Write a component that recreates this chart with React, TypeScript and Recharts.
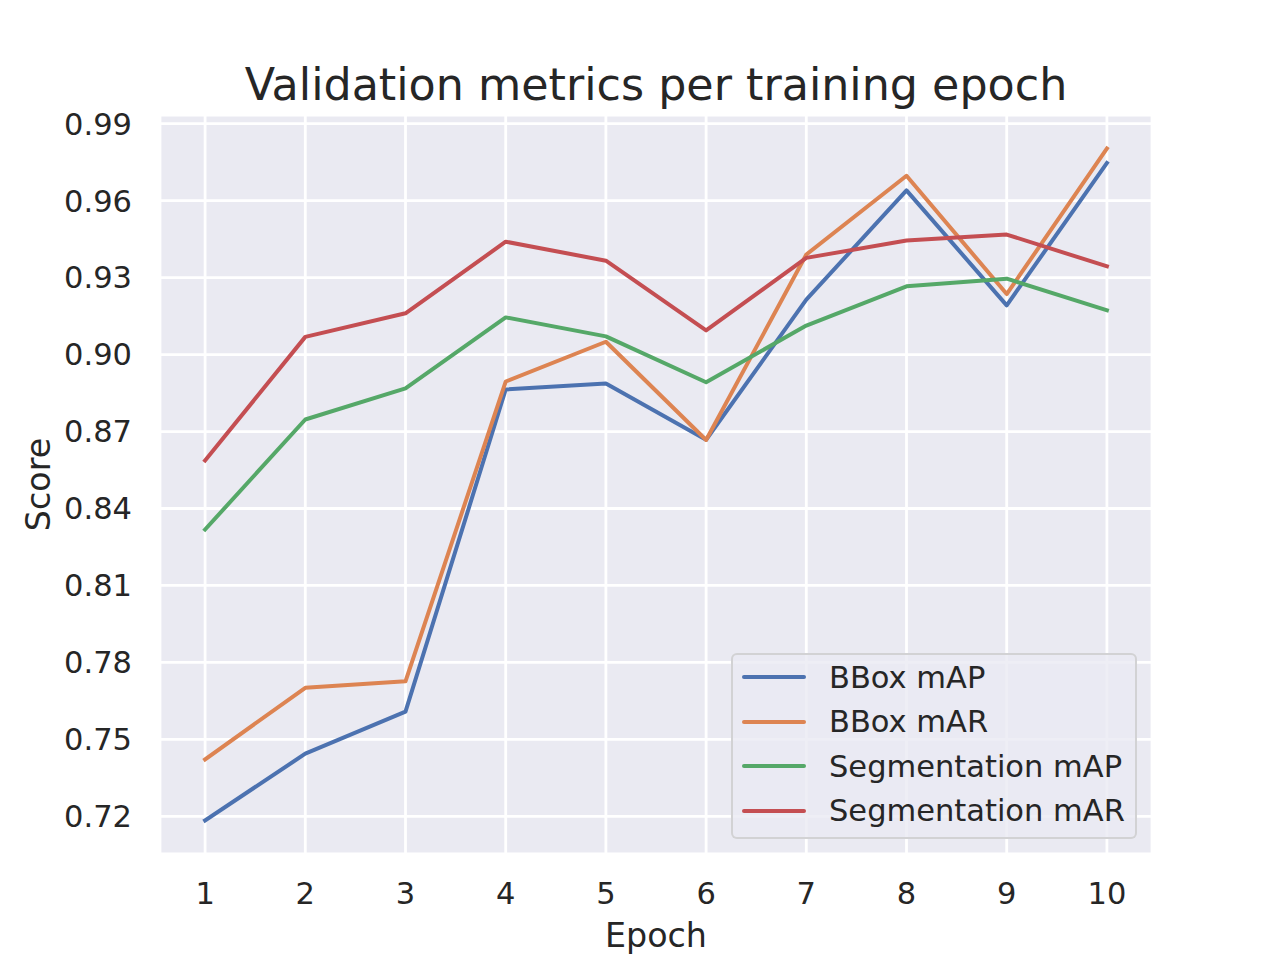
import {
  CartesianGrid,
  Label,
  Legend,
  Line,
  LineChart,
  XAxis,
  YAxis,
} from "recharts";

const epochs = [1, 2, 3, 4, 5, 6, 7, 8, 9, 10];
const bboxMap = [0.7184, 0.7444, 0.7608, 0.8864, 0.8887, 0.8668, 0.9214, 0.964, 0.9192, 0.9747];
const bboxMar = [0.7422, 0.7701, 0.7726, 0.8895, 0.905, 0.8667, 0.939, 0.9697, 0.9236, 0.9803];
const segMap = [0.8318, 0.8747, 0.8868, 0.9145, 0.9071, 0.8892, 0.9113, 0.9266, 0.9296, 0.9173];
const segMar = [0.8587, 0.9069, 0.9161, 0.944, 0.9366, 0.9094, 0.9377, 0.9445, 0.9468, 0.9344];
const yTicks = [0.72, 0.75, 0.78, 0.81, 0.84, 0.87, 0.9, 0.93, 0.96, 0.99];

// seaborn "deep" palette
const series = [
  { key: "bboxMap", name: "BBox mAP", color: "#4C72B0", values: bboxMap },
  { key: "bboxMar", name: "BBox mAR", color: "#DD8452", values: bboxMar },
  { key: "segMap", name: "Segmentation mAP", color: "#55A868", values: segMap },
  { key: "segMar", name: "Segmentation mAR", color: "#C44E52", values: segMar },
];

const data = epochs.map((epoch, i) => {
  const row: Record<string, number> = { epoch };
  series.forEach((s) => {
    row[s.key] = s.values[i];
  });
  return row;
});

const FONT = "'DejaVu Sans', sans-serif";
const TEXT = "#262626";

function LegendBox() {
  return (
    <div
      style={{
        boxSizing: "border-box",
        width: 406,
        height: 186,
        border: "2px solid rgba(204,204,204,0.8)",
        borderRadius: 6,
        background: "rgba(234,234,242,0.8)",
        fontFamily: FONT,
        fontSize: 30.5,
        color: TEXT,
      }}
    >
      {series.map((s) => (
        <div key={s.key} style={{ height: 44.5, display: "flex", alignItems: "center" }}>
          <div
            style={{
              marginLeft: 9,
              width: 64,
              height: 4,
              borderRadius: 2,
              background: s.color,
              flex: "none",
            }}
          />
          <span style={{ marginLeft: 23, whiteSpace: "nowrap" }}>{s.name}</span>
        </div>
      ))}
    </div>
  );
}

export default function App() {
  return (
    <div
      style={{
        position: "absolute",
        left: 0,
        top: 0,
        width: 1280,
        height: 960,
        background: "#ffffff",
        fontFamily: FONT,
      }}
    >
      <div
        style={{
          position: "absolute",
          left: 160,
          width: 992,
          top: 59,
          textAlign: "center",
          fontSize: 44.4,
          color: TEXT,
          whiteSpace: "nowrap",
        }}
      >
        Validation metrics per training epoch
      </div>
      <LineChart
        width={1280}
        height={960}
        data={data}
        margin={{ top: 115, right: 128, bottom: 0, left: 0 }}
      >
        <CartesianGrid fill="#EAEAF2" stroke="#ffffff" strokeWidth={2.8} />
        <XAxis
          dataKey="epoch"
          type="number"
          domain={[0.55, 10.45]}
          ticks={epochs}
          allowDataOverflow
          height={106}
          axisLine={false}
          tickLine={false}
          tickSize={0}
          tickMargin={28}
          tick={{ fill: TEXT, fontSize: 30.5, fontFamily: FONT }}
        >
          <Label
            value="Epoch"
            position="insideBottom"
            offset={13}
            style={{ fill: TEXT, fontSize: 33.3, fontFamily: FONT }}
          />
        </XAxis>
        <YAxis
          type="number"
          domain={[0.7053, 0.9934]}
          ticks={yTicks}
          allowDataOverflow
          width={160}
          axisLine={false}
          tickLine={false}
          tickSize={0}
          tickMargin={28}
          tickFormatter={(v: number) => v.toFixed(2)}
          tick={{ fill: TEXT, fontSize: 30.5, fontFamily: FONT }}
        >
          <Label
            value="Score"
            angle={-90}
            position="insideLeft"
            offset={38}
            style={{ fill: TEXT, fontSize: 33.3, fontFamily: FONT, textAnchor: "middle" }}
          />
        </YAxis>
        <Legend
          layout="horizontal"
          verticalAlign="middle"
          align="center"
          wrapperStyle={{ left: 731, top: 653, width: 406, height: 186 }}
          content={() => <LegendBox />}
        />
        {series.map((s) => (
          <Line
            key={s.key}
            type="linear"
            dataKey={s.key}
            name={s.name}
            stroke={s.color}
            strokeWidth={4}
            strokeLinejoin="round"
            strokeLinecap="square"
            dot={false}
            activeDot={false}
            isAnimationActive={false}
          />
        ))}
      </LineChart>
    </div>
  );
}
